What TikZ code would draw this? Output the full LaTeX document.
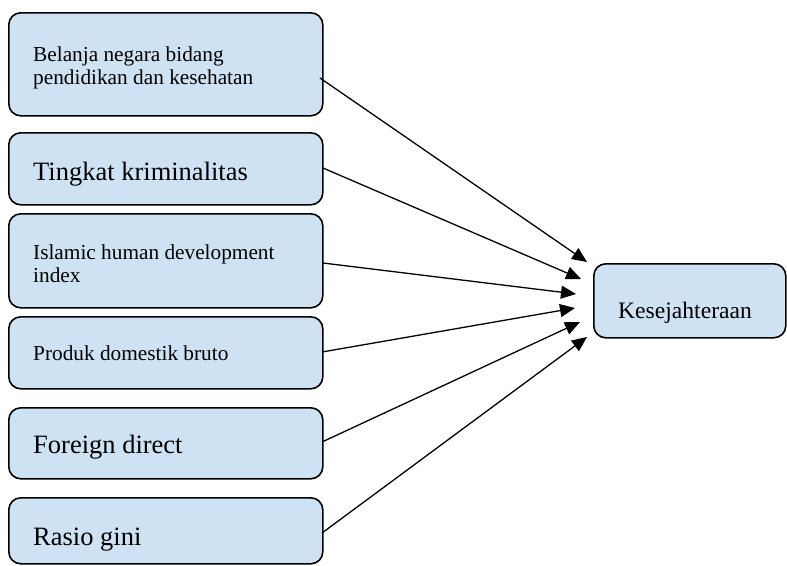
\documentclass[tikz,border=0pt]{standalone}
\usepackage{fontspec}
\setmainfont{Liberation Serif}
\usetikzlibrary{arrows.meta}
\definecolor{boxfill}{RGB}{207,226,243}
\tikzset{
  box/.style={draw=black, line width=1.6pt, fill=boxfill, rounded corners=12pt, inner sep=0pt},
  lblsmall/.style={anchor=base west, inner sep=0pt, font=\fontsize{21.3}{23}\selectfont, align=left},
  lblbig/.style={anchor=base west, inner sep=0pt, font=\fontsize{26.5}{30}\selectfont},
  lblmid/.style={anchor=base west, inner sep=0pt, font=\fontsize{23.6}{27}\selectfont},
  conn/.style={line width=1.3pt, -{Triangle[length=15pt,width=13pt]}}
}
\begin{document}
\begin{tikzpicture}[x=1pt,y=1pt]
\useasboundingbox (0,0) rectangle (787,-565);
% left boxes
\node[box, minimum width=314pt, minimum height=103pt, anchor=north west] (b1) at (8,-12) {};
\node[box, minimum width=314pt, minimum height=72pt, anchor=north west] (b2) at (8,-132) {};
\node[box, minimum width=314pt, minimum height=94pt, anchor=north west] (b3) at (8,-213) {};
\node[box, minimum width=314pt, minimum height=72pt, anchor=north west] (b4) at (8,-316) {};
\node[box, minimum width=314pt, minimum height=71pt, anchor=north west] (b5) at (8,-407) {};
\node[box, minimum width=314pt, minimum height=66pt, anchor=north west] (b6) at (8,-497) {};
% right box
\node[box, minimum width=192pt, minimum height=74pt, anchor=north west] (k) at (593,-263) {};
% labels (base anchor = last line)
\node[lblsmall] (t1) at (33,-84) {Belanja negara bidang\\pendidikan dan kesehatan};
\node[lblbig] (t2) at (33,-180) {Tingkat kriminalitas};
\node[lblsmall] (t3) at (33,-282) {Islamic human development\\index};
\node[lblsmall] (t4) at (33,-360) {Produk domestik bruto};
\node[lblbig] (t5) at (33,-453) {Foreign direct};
\node[lblbig] (t6) at (33,-545) {Rasio gini};
\node[lblmid] (tk) at (618,-318) {Kesejahteraan};
% connector ends
\coordinate (s1) at (320,-78);
\coordinate (s2) at (323,-168);
\coordinate (s3) at (323,-263);
\coordinate (s4) at (322,-352);
\coordinate (s5) at (322,-442);
\coordinate (s6) at (322,-533);
\coordinate (e1) at (587,-262);
\coordinate (e2) at (581,-279);
\coordinate (e3) at (576,-294);
\coordinate (e4) at (575,-308);
\coordinate (e5) at (580,-322);
\coordinate (e6) at (587,-337);
\foreach \i in {1,...,6} {\draw[conn] (s\i) -- (e\i);}
\end{tikzpicture}
\end{document}
